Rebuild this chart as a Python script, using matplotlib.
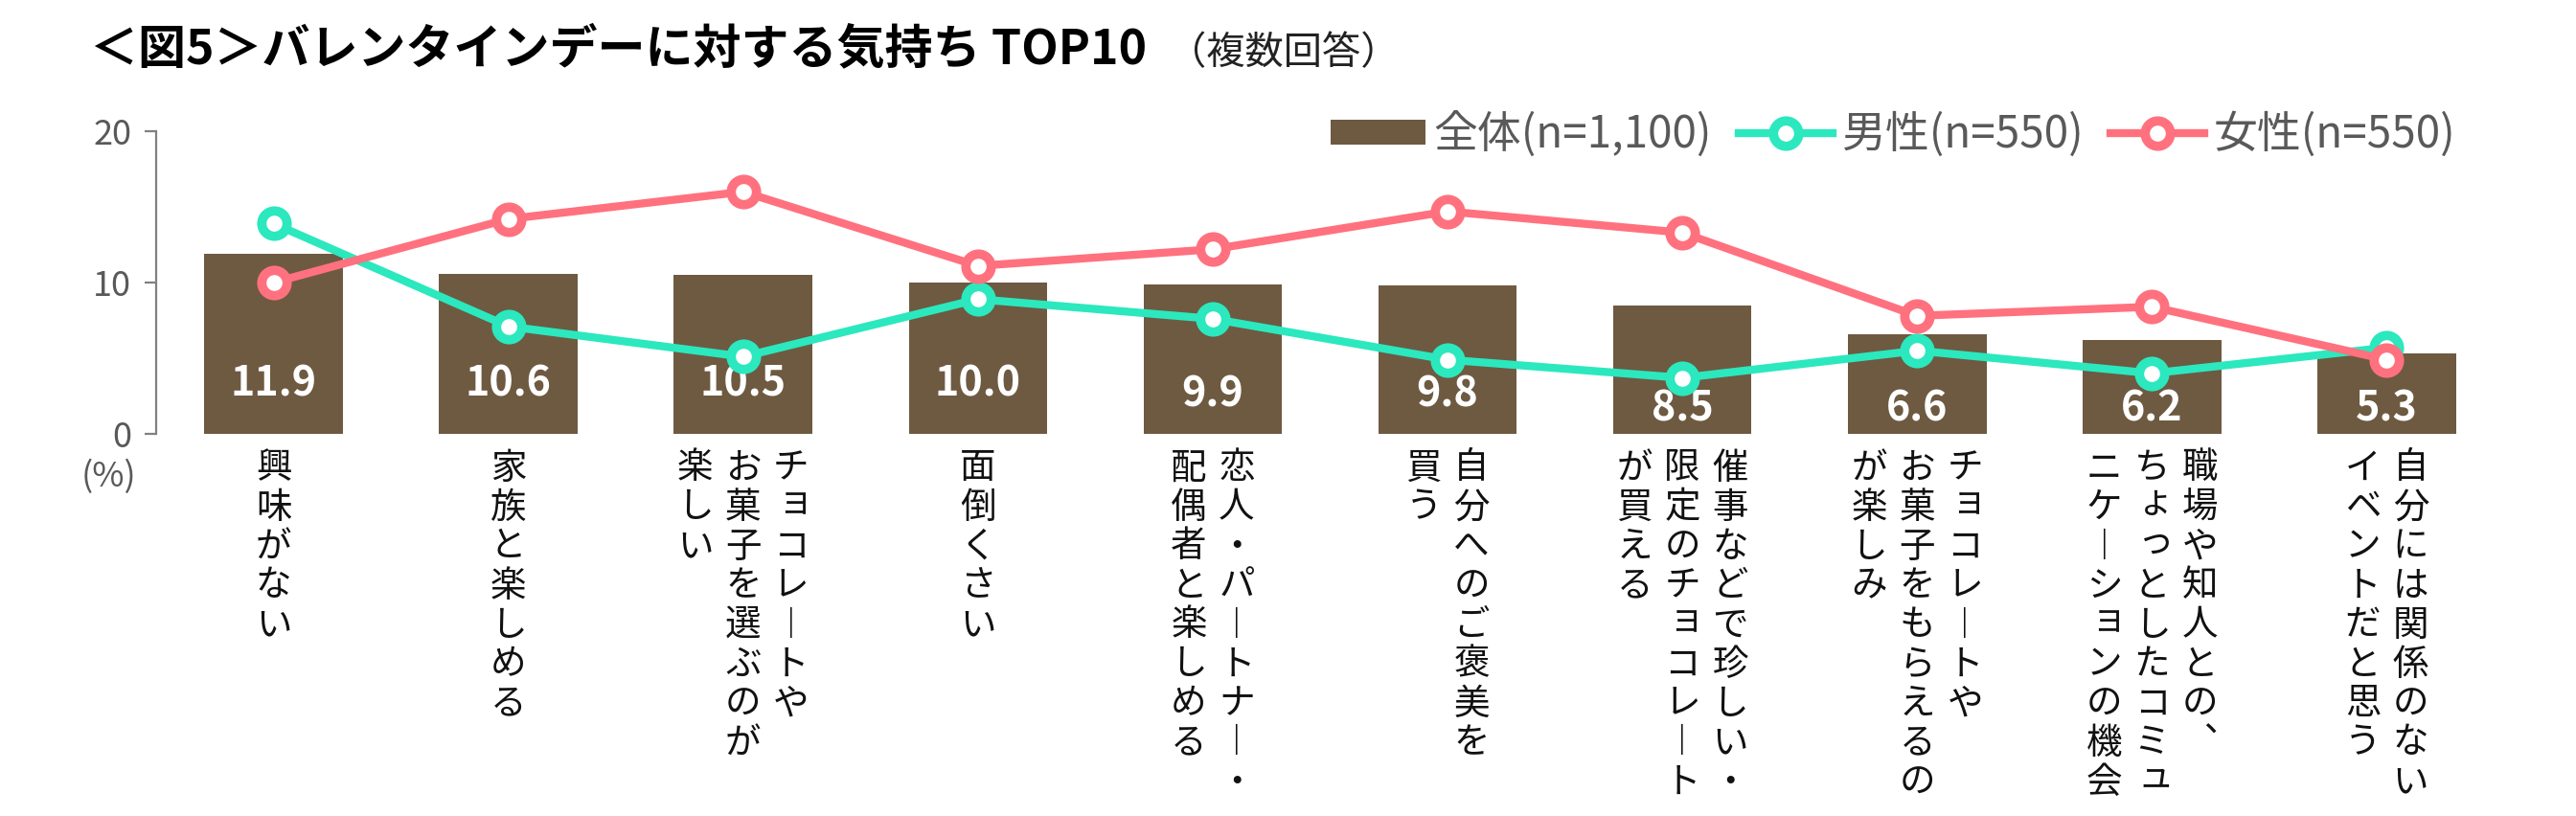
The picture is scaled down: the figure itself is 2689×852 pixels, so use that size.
import matplotlib
matplotlib.use('Agg')
import matplotlib.pyplot as plt
from matplotlib.lines import Line2D
from matplotlib.patches import Patch

plt.rcParams['font.family'] = ['Noto Sans CJK JP', 'DejaVu Sans']

# データ
categories = [
    ['興味がない'],
    ['家族と楽しめる'],
    ['チョコレートや', 'お菓子を選ぶのが', '楽しい'],
    ['面倒くさい'],
    ['恋人・パートナー・', '配偶者と楽しめる'],
    ['自分へのご褒美を', '買う'],
    ['催事などで珍しい・', '限定のチョコレート', 'が買える'],
    ['チョコレートや', 'お菓子をもらえるの', 'が楽しみ'],
    ['職場や知人との、', 'ちょっとしたコミュ', 'ニケーションの機会'],
    ['自分には関係のない', 'イベントだと思う'],
]
total = [11.9, 10.6, 10.5, 10.0, 9.9, 9.8, 8.5, 6.6, 6.2, 5.3]
male = [13.9, 7.1, 5.1, 8.9, 7.6, 4.9, 3.7, 5.5, 4.0, 5.7]
female = [10.0, 14.2, 16.0, 11.1, 12.2, 14.7, 13.3, 7.8, 8.4, 4.9]
yticks = [0, 10, 20]
legend_labels = ['全体(n=1,100)', '男性(n=550)', '女性(n=550)']

BROWN = '#6E5A41'
TEAL = '#2BE8BE'
PINK = '#FF717E'
GRAY = '#595959'

W, H = 2689, 852
fig = plt.figure(figsize=(W / 100, H / 100), dpi=100)
ax = fig.add_axes([163 / W, 1 - 453 / H, (2614 - 163) / W, (453 - 137) / H])

x = list(range(len(total)))
ax.bar(x, total, width=0.59, color=BROWN, zorder=1)
ax.plot(x, male, color=TEAL, lw=6, marker='o', ms=19, mfc='white', mec=TEAL, mew=7, zorder=3)
ax.plot(x, female, color=PINK, lw=6, marker='o', ms=19, mfc='white', mec=PINK, mew=7, zorder=4)

# 棒の中の数値
for i, v in enumerate(total):
    if v >= 10:
        ly = 3.35
    elif v >= 9.5:
        ly = 2.6
    else:
        ly = 1.65
    ax.text(i, ly, f'{v:.1f}', ha='center', va='center', color='white',
            fontsize=31, fontweight='bold', zorder=2)

ax.set_xlim(-0.5, len(total) - 0.5)
ax.set_ylim(0, 20)
ax.set_yticks(yticks)
ax.set_xticks([])
for s in ['top', 'right', 'bottom']:
    ax.spines[s].set_visible(False)
ax.spines['left'].set_color('#808080')
ax.spines['left'].set_linewidth(1.6)
ax.tick_params(axis='y', length=8.5, width=1.6, color='#808080',
               labelsize=26, labelcolor=GRAY, pad=10)
fig.text(113 / W, 1 - 498 / H, '(%)', ha='center', va='center', fontsize=26, color=GRAY)

# 縦書きラベル
small = set('ァィゥェォッャュョぁぃぅぇぉっゃゅょ')
vert = {'ー': '︱', '、': '︑'}
pitch_y = 41
pitch_x = 50
top_y = 489
for i, cols in enumerate(categories):
    cx = ax.transData.transform((i, 0))[0]
    n = len(cols)
    for j, col in enumerate(cols):
        colx = cx + ((n - 1) / 2 - j) * pitch_x
        for k, ch in enumerate(col):
            px, py = colx, top_y + k * pitch_y
            if ch in small:
                px += 4
                py -= 5
            fig.text(px / W, 1 - py / H, vert.get(ch, ch), ha='center', va='center',
                     fontsize=27, color='#111111')

# 凡例
handles = [
    Patch(facecolor=BROWN),
    Line2D([], [], color=TEAL, lw=6, marker='o', ms=19, mfc='white', mec=TEAL, mew=7),
    Line2D([], [], color=PINK, lw=6, marker='o', ms=19, mfc='white', mec=PINK, mew=7),
]
leg = fig.legend(handles, legend_labels, loc='center left', bbox_to_anchor=(1389 / W, 1 - 141 / H),
                 ncol=3, frameon=False, fontsize=33, handlelength=2.15, handleheight=0.52,
                 handletextpad=0.2, columnspacing=0.6, borderpad=0, borderaxespad=0)
for t in leg.get_texts():
    t.set_color(GRAY)

# タイトル
title = fig.text(94 / W, 1 - 52 / H, '＜図5＞バレンタインデーに対する気持ち TOP10', ha='left', va='center',
                 fontsize=36, fontweight='bold', color='black')
r = fig.canvas.get_renderer()
bb = title.get_window_extent(r)
fig.text((bb.x1 + 22) / W, 1 - 56 / H, '（複数回答）', ha='left', va='center', fontsize=29, color='#222222')

fig.savefig('out.png', dpi=100)
